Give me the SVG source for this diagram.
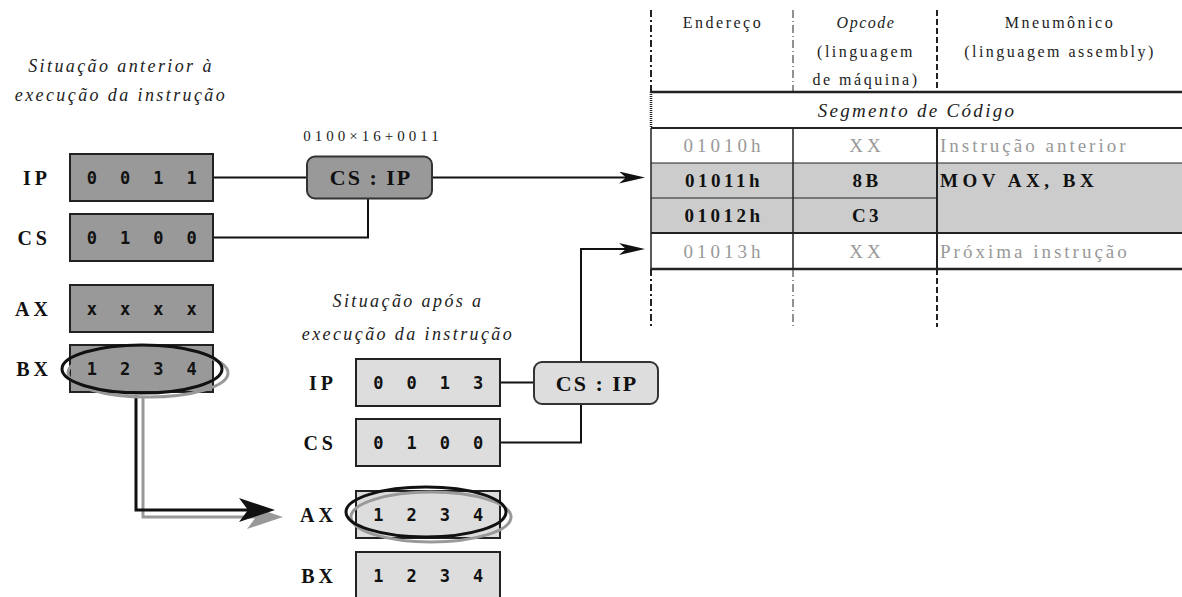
<svg xmlns="http://www.w3.org/2000/svg" width="1182" height="597" viewBox="0 0 1182 597">
<defs>
<style>
.cap{font-family:"Liberation Serif","Times New Roman",serif;font-style:italic;font-size:18px;letter-spacing:2.4px;fill:#222;text-anchor:middle}
.lbl{font-family:"Liberation Serif","Times New Roman",serif;font-weight:bold;font-size:20px;letter-spacing:4px;fill:#111;text-anchor:end}
.r1{fill:#999;stroke:#222;stroke-width:2}
.r2{fill:#ddd;stroke:#222;stroke-width:2}
.dig{font-family:"DejaVu Sans Mono",monospace;font-weight:bold;font-size:17px;letter-spacing:6.4px;fill:#111;text-anchor:middle}
.c1{fill:#999;stroke:#333;stroke-width:2}
.c2{fill:#ddd;stroke:#333;stroke-width:2}
.ct{font-family:"Liberation Serif","Times New Roman",serif;font-weight:bold;font-size:22px;letter-spacing:2px;fill:#111;text-anchor:middle}
.w{fill:none;stroke:#111;stroke-width:2}
.ek{fill:none;stroke:#111;stroke-width:3}
.eg{fill:none;stroke:#999;stroke-width:3}
.fm{font-family:"Liberation Serif","Times New Roman",serif;font-size:15px;letter-spacing:4px;fill:#222;text-anchor:middle}
.th{font-family:"Liberation Serif","Times New Roman",serif;font-size:16px;letter-spacing:2.5px;fill:#222;text-anchor:middle}
.ti{font-style:italic;letter-spacing:1.5px}
.seg{font-family:"Liberation Serif","Times New Roman",serif;font-style:italic;font-size:19px;letter-spacing:2.3px;fill:#222;text-anchor:middle}
.td{font-family:"Liberation Serif","Times New Roman",serif;font-size:19px;letter-spacing:4px;fill:#999;text-anchor:middle}
.tm{font-family:"Liberation Serif","Times New Roman",serif;font-size:19px;letter-spacing:3px;fill:#999}
.tb{font-family:"Liberation Serif","Times New Roman",serif;font-weight:bold;font-size:19px;letter-spacing:3.5px;fill:#111;text-anchor:middle}
.tbm{font-family:"Liberation Serif","Times New Roman",serif;font-weight:bold;font-size:19px;letter-spacing:4.5px;fill:#111}
</style>
<marker id="ah" markerUnits="userSpaceOnUse" markerWidth="26" markerHeight="12" viewBox="0 0 26 12" refX="16" refY="6" orient="auto"><path d="M0,0 L26,6 L0,12 L7,6 Z" fill="#111"/></marker>
<marker id="bk" markerUnits="userSpaceOnUse" markerWidth="36" markerHeight="24" viewBox="0 0 36 24" refX="24" refY="12" orient="auto"><path d="M0,0 L36,12 L0,24 L9,12 Z" fill="#111"/></marker>
<marker id="bg" markerUnits="userSpaceOnUse" markerWidth="36" markerHeight="24" viewBox="0 0 36 24" refX="24" refY="12" orient="auto"><path d="M0,0 L36,12 L0,24 L9,12 Z" fill="#999"/></marker>
</defs>
<rect width="1182" height="597" fill="#fff"/>

<g id="captions">
<text class="cap" x="121" y="72">Situação anterior à</text>
<text class="cap" x="121" y="101">execução da instrução</text>
<text class="cap" x="408" y="307">Situação após a</text>
<text class="cap" x="408" y="340">execução da instrução</text>
<text class="fm" x="373" y="141">0100×16+0011</text>
</g>

<g id="connectors">
<path class="w" d="M213,177.5 H307"/>
<path class="w" d="M432,177.5 H635" marker-end="url(#ah)"/>
<path class="w" d="M213,237.5 H368 V198.5"/>
<path class="w" d="M500,382.5 H534"/>
<path class="w" d="M500,442.5 H581 V404"/>
<path class="w" d="M581,362 V249 H635" marker-end="url(#ah)"/>
<path fill="none" stroke="#999" stroke-width="3" d="M143,398 V517 H271" marker-end="url(#bg)"/>
<path fill="none" stroke="#111" stroke-width="3" d="M136,395 V510 H263" marker-end="url(#bk)"/>
</g>

<g id="ip-before">
<text class="lbl" x="51" y="185">IP</text>
<rect class="r1" x="70" y="154" width="143" height="47"/>
<text class="dig" x="145" y="183.5">0 0 1 1</text>
</g>
<g id="cs-before">
<text class="lbl" x="51" y="245">CS</text>
<rect class="r1" x="70" y="214" width="143" height="47"/>
<text class="dig" x="145" y="243.5">0 1 0 0</text>
</g>
<g id="ax-before">
<text class="lbl" x="52" y="316">AX</text>
<rect class="r1" x="70" y="285" width="143" height="47"/>
<text class="dig" x="145" y="314.5">x x x x</text>
</g>
<g id="bx-before">
<text class="lbl" x="52" y="376">BX</text>
<rect class="r1" x="70" y="345" width="143" height="47"/>
<text class="dig" x="145" y="374.5">1 2 3 4</text>
<ellipse class="eg" cx="148" cy="373" rx="80" ry="24"/>
<ellipse class="ek" cx="142" cy="369" rx="80" ry="24"/>
</g>
<g id="csip-before">
<rect class="c1" x="307" y="156.5" width="125" height="42" rx="8"/>
<text class="ct" x="371" y="185">CS : IP</text>
</g>

<g id="ip-after">
<text class="lbl" x="337" y="390">IP</text>
<rect class="r2" x="356" y="359" width="144" height="47"/>
<text class="dig" x="431.5" y="388.5">0 0 1 3</text>
</g>
<g id="cs-after">
<text class="lbl" x="337" y="450">CS</text>
<rect class="r2" x="356" y="419" width="144" height="47"/>
<text class="dig" x="431.5" y="448.5">0 1 0 0</text>
</g>
<g id="ax-after">
<text class="lbl" x="337" y="522">AX</text>
<rect class="r2" x="356" y="491" width="144" height="47"/>
<text class="dig" x="431.5" y="520.5">1 2 3 4</text>
<ellipse class="eg" cx="431" cy="517" rx="80" ry="25"/>
<ellipse class="ek" cx="426" cy="512" rx="80" ry="25"/>
</g>
<g id="bx-after">
<text class="lbl" x="337" y="583">BX</text>
<rect class="r2" x="356" y="552" width="144" height="47"/>
<text class="dig" x="431.5" y="581.5">1 2 3 4</text>
</g>
<g id="csip-after">
<rect class="c2" x="534" y="362" width="124" height="42" rx="8"/>
<text class="ct" x="597" y="391">CS : IP</text>
</g>

<g id="table">
<rect x="651" y="163" width="531" height="70" fill="#ccc"/>
<g fill="none" stroke="#222">
<path d="M651,10 V92 M651,269 V327" stroke-width="2" stroke-dasharray="7 3 2 3"/>
<path d="M651,92 V128" stroke-width="2.5" stroke-dasharray="1 1"/>
<path d="M651,128 V269" stroke-width="1.5"/>
<path d="M793,10 V92 M793,269 V327" stroke-width="1" stroke-dasharray="8 3 1 3"/>
<path d="M793,128 V269" stroke-width="1.5"/>
<path d="M937,10 V92 M937,269 V327" stroke-width="2" stroke-dasharray="6 3"/>
<path d="M937,128 V269" stroke-width="2"/>
<path d="M651,92 H1182" stroke-width="2.5"/>
<path d="M651,128 H1182" stroke-width="2"/>
<path d="M651,163 H1182" stroke-width="1"/>
<path d="M651,198 H937" stroke-width="1"/>
<path d="M651,233 H1182" stroke-width="2"/>
<path d="M651,269 H1182" stroke-width="2.5"/>
</g>
<text class="th" x="723" y="28">Endereço</text>
<text class="th ti" x="866" y="28">Opcode</text>
<text class="th" x="866" y="57">(linguagem</text>
<text class="th" x="866" y="85">de máquina)</text>
<text class="th" x="1060" y="28">Mneumônico</text>
<text class="th" x="1060" y="57">(linguagem assembly)</text>
<text class="seg" x="917" y="117">Segmento de Código</text>
<text class="td" x="724" y="152">01010h</text>
<text class="td" x="867" y="152">XX</text>
<text class="tm" x="940" y="152">Instrução anterior</text>
<text class="tb" x="724" y="187">01011h</text>
<text class="tb" x="867" y="187">8B</text>
<text class="tbm" x="940" y="187">MOV AX, BX</text>
<text class="tb" x="724" y="222">01012h</text>
<text class="tb" x="867" y="222">C3</text>
<text class="td" x="724" y="258">01013h</text>
<text class="td" x="867" y="258">XX</text>
<text class="tm" x="940" y="258">Próxima instrução</text>
</g>
</svg>
